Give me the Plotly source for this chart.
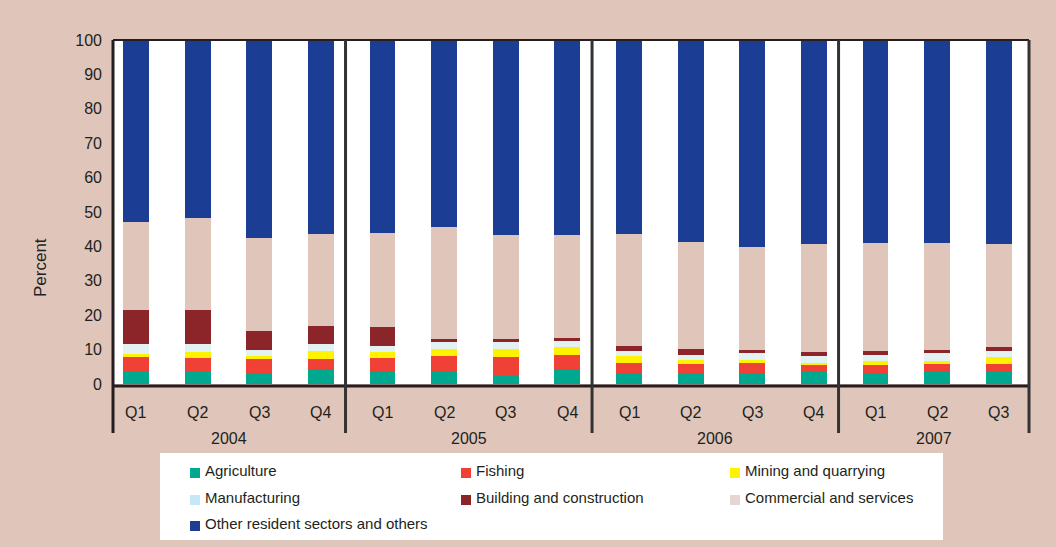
import plotly.graph_objects as go

# Quarterly composition of credit by sector (percent of total)
years = ["2004", "2005", "2006", "2007"]
quarters_per_year = [4, 4, 4, 3]
quarter_labels = ["Q1", "Q2", "Q3", "Q4", "Q1", "Q2", "Q3", "Q4",
                  "Q1", "Q2", "Q3", "Q4", "Q1", "Q2", "Q3"]

agriculture = [3.6, 3.6, 3.2, 4.1, 3.6, 3.8, 2.6, 4.4, 3.2, 3.2, 3.2, 3.6, 3.2, 3.6, 3.6]
fishing = [4.3, 4.0, 4.1, 3.2, 4.0, 4.3, 5.3, 4.0, 2.9, 2.6, 2.9, 1.9, 2.3, 2.2, 2.2]
mining = [0.9, 1.7, 0.8, 2.3, 1.7, 2.1, 2.3, 2.4, 2.0, 1.2, 0.9, 0.6, 1.2, 0.9, 2.1]
manufacturing = [2.8, 2.3, 1.8, 2.0, 1.7, 2.0, 2.0, 1.7, 1.5, 1.4, 2.0, 2.0, 1.7, 2.3, 1.7]
building = [9.9, 9.9, 5.5, 5.3, 5.6, 0.9, 0.9, 0.9, 1.4, 1.8, 0.9, 1.2, 1.2, 0.9, 1.2]
commercial = [25.6, 26.8, 27.0, 26.7, 27.3, 32.5, 30.2, 29.9, 32.6, 31.1, 29.9, 31.4, 31.4, 31.1, 29.9]
other = [52.9, 51.7, 57.6, 56.4, 56.1, 54.4, 56.7, 56.7, 56.4, 58.7, 60.2, 59.3, 59.0, 59.0, 59.3]

series_names = ["Agriculture", "Fishing", "Mining and quarrying", "Manufacturing",
                "Building and construction", "Commercial and services",
                "Other resident sectors and others"]
series_values = [agriculture, fishing, mining, manufacturing, building, commercial, other]
bar_colors = ["#00A88F", "#EF4136", "#FFF200", "#E2F1F1", "#8B2529", "#E0C6BA", "#1B3E94"]
swatch_colors = ["#00A88F", "#EF4136", "#FFF200", "#C6E7F7", "#8B2529", "#E6D5D2", "#1B3E94"]

FONT = "Arial, Liberation Sans, sans-serif"
INK = "#231F20"
BG = "#E0C6BA"

W, H = 1056, 547
L, R, T, B = 113, 1029, 40, 384  # plot box in pixels

x_pos = list(range(len(quarter_labels)))
x_range = [-0.373, len(x_pos) - 0.51]

fig = go.Figure()
for name, vals, col in zip(series_names, series_values, bar_colors):
    fig.add_trace(go.Bar(
        x=x_pos, y=vals, name=name, width=0.42,
        marker=dict(color=col, line=dict(width=0)),
        showlegend=False,
    ))


def px_x(p):
    return (p - L) / (R - L)


def px_y(p):
    return (B - p) / (B - T)


shapes = []
annotations = []

# frame: top, bottom, left and right edges, the side edges running down past the axis
bottom_ext = px_y(433)
shapes.append(dict(type="line", xref="paper", yref="paper", x0=0, x1=1, y0=1, y1=1,
                   line=dict(color=INK, width=2)))
shapes.append(dict(type="line", xref="paper", yref="paper", x0=0, x1=1, y0=px_y(386), y1=px_y(386),
                   line=dict(color=INK, width=3)))
shapes.append(dict(type="line", xref="paper", yref="paper", x0=0, x1=0, y0=1, y1=bottom_ext,
                   line=dict(color=INK, width=3)))
shapes.append(dict(type="line", xref="paper", yref="paper", x0=1, x1=1, y0=1, y1=bottom_ext,
                   line=dict(color="#333333", width=3)))

# year group separators and labels
starts = []
s = 0
for n in quarters_per_year:
    starts.append(s)
    s += n
bounds = [x_range[0]] + [st - 0.6 for st in starts[1:]] + [x_range[1]]
for b in bounds[1:-1]:
    shapes.append(dict(type="line", xref="x", yref="paper", x0=b, x1=b, y0=1, y1=bottom_ext,
                       line=dict(color="#333333", width=3)))
for i, yr in enumerate(years):
    annotations.append(dict(x=(bounds[i] + bounds[i + 1]) / 2, y=px_y(438), xref="x", yref="paper",
                            text=yr, showarrow=False, xanchor="center", yanchor="middle",
                            font=dict(family=FONT, size=16, color=INK)))

# quarter labels
for xp, q in zip(x_pos, quarter_labels):
    annotations.append(dict(x=xp, y=px_y(412), xref="x", yref="paper", text=q, showarrow=False,
                            xanchor="center", yanchor="middle",
                            font=dict(family=FONT, size=16, color=INK)))

# y-axis title
annotations.append(dict(x=px_x(40), y=px_y(268), xref="paper", yref="paper", text="Percent",
                        textangle=-90, showarrow=False, xanchor="center", yanchor="middle",
                        font=dict(family=FONT, size=17, color=INK)))

# legend box
shapes.append(dict(type="rect", xref="paper", yref="paper", x0=px_x(160), x1=px_x(943),
                   y0=px_y(540), y1=px_y(453), fillcolor="white", line=dict(width=0), layer="below"))
col_x = [190, 461, 730]
row_y = [470, 497, 523]
for i, (name, col) in enumerate(zip(series_names, swatch_colors)):
    r, c = divmod(i, 3)
    sx, sy = col_x[c], row_y[r] + 3
    shapes.append(dict(type="rect", xref="paper", yref="paper",
                       x0=px_x(sx), x1=px_x(sx + 10), y0=px_y(sy + 5), y1=px_y(sy - 5),
                       fillcolor=col, line=dict(width=0)))
    annotations.append(dict(x=px_x(sx + 13), y=px_y(row_y[r]), xref="paper", yref="paper",
                            text=name, showarrow=False, xanchor="left", yanchor="middle",
                            font=dict(family=FONT, size=15, color=INK)))

fig.update_layout(
    width=W, height=H,
    margin=dict(l=L, r=W - R, t=T, b=H - B, pad=0),
    paper_bgcolor=BG, plot_bgcolor="white",
    barmode="stack", bargap=0,
    shapes=shapes, annotations=annotations,
    showlegend=False,
    xaxis=dict(range=x_range, showticklabels=False, showgrid=False, zeroline=False,
               showline=False, fixedrange=True),
    yaxis=dict(range=[0, 100], tickvals=list(range(0, 101, 10)), showgrid=False,
               zeroline=False, showline=False, ticks="", ticklabelstandoff=10,
               tickfont=dict(family=FONT, size=16, color=INK), fixedrange=True),
)

fig.write_html("out.html", config={"displayModeBar": False})
